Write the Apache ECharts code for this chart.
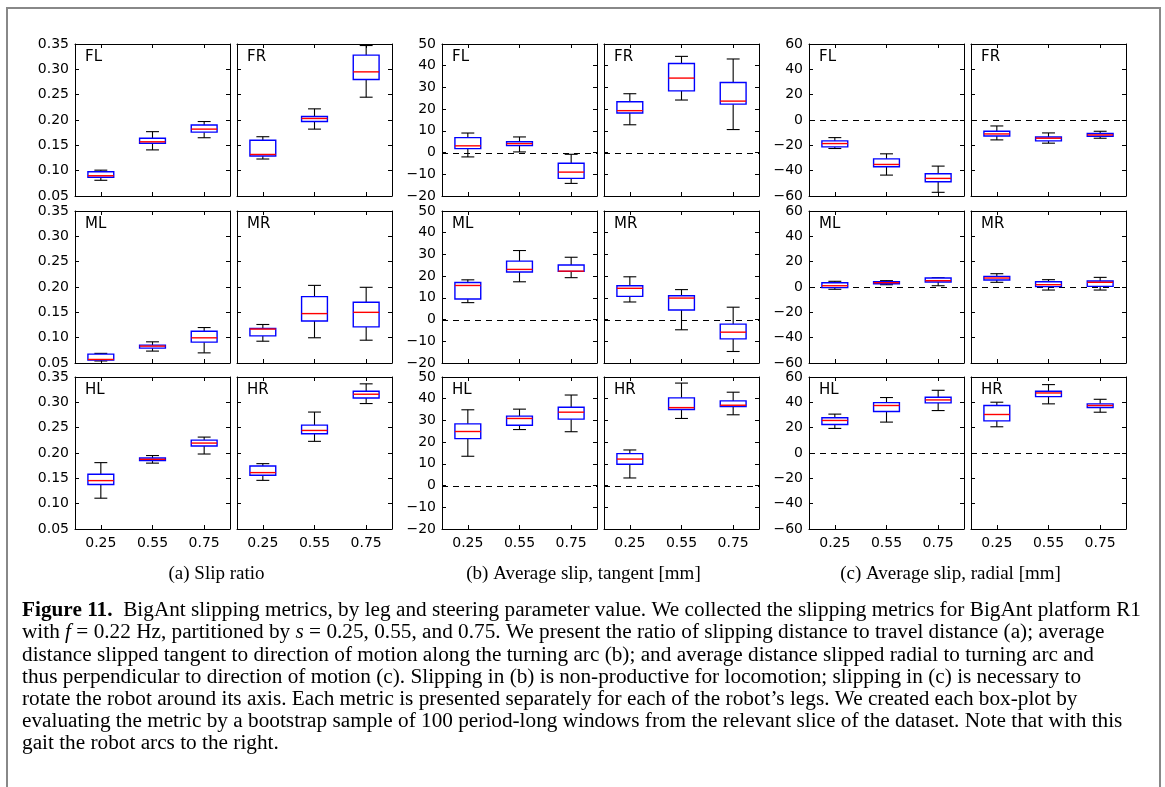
<!DOCTYPE html>
<html>
<head>
<meta charset="utf-8">
<script src="https://cdn.jsdelivr.net/npm/echarts@6/dist/echarts.min.js"></script>
<style>
html,body{margin:0;padding:0;background:#fff;}
#chart{width:1165px;height:787px;}
</style>
</head>
<body>
<div id="chart"></div>
<script>
// Steering parameter values (x categories)
const categories = ['0.25', '0.55', '0.75'];
const legs = ['FL', 'FR', 'ML', 'MR', 'HL', 'HR'];

// Each entry: [lower whisker, Q1, median, Q3, upper whisker]
// (a) Slip ratio
const slipFL = [[0.081, 0.087, 0.090, 0.098, 0.101], [0.141, 0.154, 0.157, 0.164, 0.177], [0.165, 0.176, 0.182, 0.190, 0.197]];
const slipFR = [[0.123, 0.129, 0.132, 0.160, 0.167], [0.182, 0.197, 0.203, 0.207, 0.222], [0.245, 0.280, 0.295, 0.328, 0.347]];
const slipML = [[0.054, 0.0557, 0.057, 0.0676, 0.069], [0.0735, 0.0794, 0.0833, 0.0853, 0.0918], [0.070, 0.0912, 0.0997, 0.1128, 0.120]];
const slipMR = [[0.093, 0.1036, 0.117, 0.118, 0.126], [0.0998, 0.133, 0.1475, 0.181, 0.2032], [0.095, 0.1213, 0.150, 0.170, 0.1994]];
const slipHL = [[0.1108, 0.1377, 0.1455, 0.158, 0.181], [0.180, 0.1849, 0.1875, 0.190, 0.195], [0.198, 0.2137, 0.2196, 0.2255, 0.2314]];
const slipHR = [[0.146, 0.156, 0.1613, 0.1744, 0.179], [0.223, 0.238, 0.2445, 0.255, 0.2808], [0.2976, 0.3087, 0.316, 0.3218, 0.3365]];

// (b) Average slip, tangent [mm]
const tanFL = [[-2.0, 1.8, 3.1, 6.9, 9.0], [0.3, 3.2, 4.1, 5.0, 7.2], [-14.2, -11.9, -9.0, -4.9, -0.8]];
const tanFR = [[12.8, 18.2, 19.3, 23.4, 27.1], [24.2, 28.4, 34.3, 41.0, 44.3], [10.6, 22.3, 23.7, 32.3, 43.1]];
const tanML = [[7.8, 9.5, 15.7, 17.1, 18.3], [17.4, 21.9, 23.1, 26.9, 31.8], [19.3, 22.2, 22.3, 25.1, 28.7]];
const tanMR = [[8.1, 10.7, 14.4, 15.6, 19.7], [-4.7, 4.4, 9.9, 11.0, 13.8], [-14.7, -8.9, -5.8, -2.1, 5.7]];
const tanHL = [[13.5, 21.6, 24.9, 28.4, 34.9], [25.8, 27.8, 30.9, 32.0, 35.2], [24.8, 30.6, 33.8, 36.1, 41.7]];
const tanHR = [[3.5, 9.8, 12.2, 14.7, 16.4], [30.9, 35.0, 35.9, 40.4, 47.2], [32.6, 36.4, 37.0, 39.0, 43.0]];

// (c) Average slip, radial [mm]
const radFL = [[-22.5, -21.2, -18.6, -16.5, -13.9], [-43.5, -36.9, -35.1, -30.7, -26.7], [-57.1, -48.7, -46.1, -42.4, -36.4]];
const radFR = [[-15.7, -12.6, -11.0, -8.9, -4.7], [-18.3, -16.5, -14.4, -13.4, -10.2], [-14.4, -12.8, -11.8, -10.7, -8.9]];
const radML = [[-1.8, -0.5, 1.0, 3.4, 4.5], [1.8, 2.6, 3.4, 4.2, 5.0], [1.0, 3.9, 5.0, 7.1, 7.3]];
const radMR = [[3.7, 5.5, 7.1, 8.4, 10.5], [-2.4, 0.3, 1.8, 4.2, 5.8], [-2.4, 0.5, 3.7, 4.7, 7.6]];
const radHL = [[19.4, 22.5, 25.7, 27.8, 30.7], [24.4, 32.8, 37.5, 39.8, 43.8], [33.5, 39.6, 41.9, 44.0, 49.5]];
const radHR = [[20.7, 25.4, 30.4, 37.5, 40.1], [38.8, 44.5, 47.4, 48.7, 54.0], [32.2, 35.9, 37.5, 38.8, 42.4]];

// Axis tick settings per metric
const slipAxis = { min: 0.05, max: 0.35, interval: 0.05, decimals: 2, zero: false };
const tanAxis = { min: -20, max: 50, interval: 10, decimals: 0, zero: true };
const radAxis = { min: -60, max: 60, interval: 20, decimals: 0, zero: true };

const subCaptions = ['(a) Slip ratio', '(b) Average slip, tangent [mm]', '(c) Average slip, radial [mm]'];

const captionLines = [
  '{b|Figure 11.}  BigAnt slipping metrics, by leg and steering parameter value. We collected the slipping metrics for BigAnt platform R1',
  'with {i|f} = 0.22 Hz, partitioned by {i|s} = 0.25, 0.55, and 0.75. We present the ratio of slipping distance to travel distance (a); average',
  'distance slipped tangent to direction of motion along the turning arc (b); and average distance slipped radial to turning arc and',
  'thus perpendicular to direction of motion (c). Slipping in (b) is non-productive for locomotion; slipping in (c) is necessary to',
  'rotate the robot around its axis. Each metric is presented separately for each of the robot\u2019s legs. We created each box-plot by',
  'evaluating the metric by a bootstrap sample of 100 period-long windows from the relevant slice of the dataset. Note that with this',
  'gait the robot arcs to the right.'
];

const metrics = [
  { axis: slipAxis, data: [slipFL, slipFR, slipML, slipMR, slipHL, slipHR] },
  { axis: tanAxis, data: [tanFL, tanFR, tanML, tanMR, tanHL, tanHR] },
  { axis: radAxis, data: [radFL, radFR, radML, radMR, radHL, radHR] }
];

// Layout
const colLefts = [75, 237, 442, 604, 809, 971];
const rowTops = [44, 211, 377];
const PW = 155, PH = 152;
const tickFont = 'DejaVu Sans';

function fmt(v, dec) {
  const s = dec > 0 ? v.toFixed(dec) : String(Math.round(v));
  return s.replace('-', '\u2212');
}

function makeRenderer(withZero) {
  return function (params, api) {
    const k = api.value(0);
    const lo = api.value(1), q1 = api.value(2), med = api.value(3), q3 = api.value(4), hi = api.value(5);
    const pLo = api.coord([k, lo]);
    const pQ1 = api.coord([k, q1]);
    const pMed = api.coord([k, med]);
    const pQ3 = api.coord([k, q3]);
    const pHi = api.coord([k, hi]);
    const band = api.size([1, 0])[0];
    const bw = band * 0.5, cw = band * 0.25;
    const x = pMed[0];
    const black = { stroke: '#000', lineWidth: 1.1 };
    const children = [];
    if (withZero && params.dataIndex === 0) {
      const cs = params.coordSys;
      const y0 = Math.round(api.coord([k, 0])[1]) + 0.5;
      children.push({ type: 'line', z2: -1,
        shape: { x1: cs.x, y1: y0, x2: cs.x + cs.width, y2: y0 },
        style: { stroke: '#000', lineWidth: 1, lineDash: [6, 5] } });
    }
    children.push(
      { type: 'line', shape: { x1: x, y1: pQ3[1], x2: x, y2: pHi[1] }, style: black },
      { type: 'line', shape: { x1: x, y1: pQ1[1], x2: x, y2: pLo[1] }, style: black },
      { type: 'line', shape: { x1: x - cw / 2, y1: pHi[1], x2: x + cw / 2, y2: pHi[1] }, style: black },
      { type: 'line', shape: { x1: x - cw / 2, y1: pLo[1], x2: x + cw / 2, y2: pLo[1] }, style: black },
      { type: 'rect', shape: { x: x - bw / 2, y: pQ3[1], width: bw, height: pQ1[1] - pQ3[1] },
        style: { fill: '#fff', stroke: '#0000ff', lineWidth: 1.4 } },
      { type: 'line', shape: { x1: x - bw / 2, y1: pMed[1], x2: x + bw / 2, y2: pMed[1] },
        style: { stroke: '#ff0000', lineWidth: 1.4 } }
    );
    return { type: 'group', children: children };
  };
}

const grids = [], xAxes = [], yAxes = [], series = [], graphics = [];
const axisLine = { show: true, onZero: false, lineStyle: { color: '#000', width: 1 } };
const tickStyle = { show: true, inside: true, length: 4, lineStyle: { color: '#000', width: 1 } };

metrics.forEach((m, mi) => {
  m.data.forEach((arr, li) => {
    const row = Math.floor(li / 2);
    const col = mi * 2 + (li % 2);
    const gi = grids.length;
    grids.push({ left: colLefts[col], top: rowTops[row], width: PW, height: PH, containLabel: false });
    const xBase = {
      type: 'category', data: categories, gridIndex: gi, boundaryGap: true,
      axisLine: axisLine, axisTick: Object.assign({ alignWithLabel: true, interval: 0 }, tickStyle),
      splitLine: { show: false }
    };
    xAxes.push(Object.assign({}, xBase, {
      position: 'bottom',
      axisLabel: { show: row === 2, color: '#000', fontSize: 14, fontFamily: tickFont, margin: 7, interval: 0 }
    }));
    xAxes.push(Object.assign({}, xBase, { position: 'top', axisLabel: { show: false } }));
    const yBase = {
      type: 'value', gridIndex: gi, min: m.axis.min, max: m.axis.max, interval: m.axis.interval,
      axisLine: axisLine, axisTick: tickStyle, splitLine: { show: false }
    };
    const dec = m.axis.decimals;
    yAxes.push(Object.assign({}, yBase, {
      position: 'left',
      axisLabel: { show: col % 2 === 0, color: '#000', fontSize: 14, fontFamily: tickFont, margin: 6,
        formatter: v => fmt(v, dec) }
    }));
    yAxes.push(Object.assign({}, yBase, { position: 'right', axisLabel: { show: false } }));
    series.push({
      type: 'custom',
      xAxisIndex: 2 * gi, yAxisIndex: 2 * gi,
      renderItem: makeRenderer(m.axis.zero),
      encode: { x: 0, y: [1, 2, 3, 4, 5] },
      data: arr.map((d, k) => [k].concat(d)),
      silent: true,
      clip: false
    });
    graphics.push({
      type: 'text', x: colLefts[col] + 10, y: rowTops[row] + 13,
      style: { text: legs[li], font: '15px "DejaVu Sans"', fill: '#000', textVerticalAlign: 'middle' }
    });
  });
  const center = (colLefts[mi * 2] + colLefts[mi * 2 + 1] + PW) / 2 - 17;
  graphics.push({
    type: 'text', x: center, y: 574,
    style: { text: subCaptions[mi], font: '19px "Liberation Serif"', fill: '#000', textAlign: 'center', textVerticalAlign: 'middle' }
  });
});

// Figure frame
graphics.push({
  type: 'polyline',
  shape: { points: [[7, 787], [7, 8], [1160, 8], [1160, 787]] },
  style: { stroke: '#888', lineWidth: 2, fill: null }
});

// Caption, fitted to the measured line width
const capFontSize = 20;
const ctx = document.createElement('canvas').getContext('2d');
ctx.font = capFontSize + 'px "Liberation Serif"';
const plain1 = captionLines[0].replace(/\{[a-z]\|([^}]*)\}/g, '$1');
const capScale = 1115 / ctx.measureText(plain1).width;
captionLines.forEach((line, i) => {
  graphics.push({
    type: 'text', x: 22, y: 611 + 22.2 * i, scaleX: capScale,
    style: {
      text: line, x: 0, y: 0,
      font: capFontSize + 'px "Liberation Serif"', fill: '#000', textVerticalAlign: 'middle',
      rich: {
        b: { fontWeight: 'bold', fontSize: capFontSize, fontFamily: 'Liberation Serif' },
        i: { fontStyle: 'italic', fontSize: capFontSize, fontFamily: 'Liberation Serif' }
      }
    }
  });
});

const chart = echarts.init(document.getElementById('chart'), null, { renderer: 'canvas' });
chart.setOption({
  animation: false,
  backgroundColor: '#fff',
  grid: grids,
  xAxis: xAxes,
  yAxis: yAxes,
  series: series,
  graphic: graphics
});
</script>
</body>
</html>
